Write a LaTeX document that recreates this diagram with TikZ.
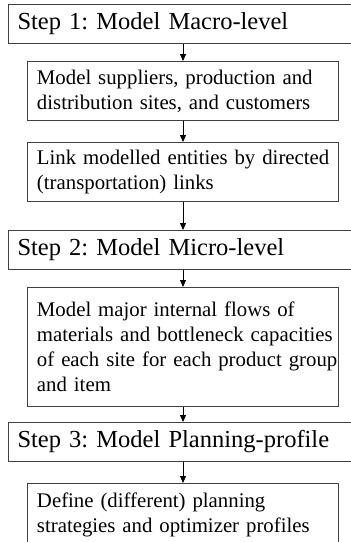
\documentclass[tikz,border=0pt]{standalone}
\usepackage{fontspec}
\setmainfont{Liberation Serif}
\usetikzlibrary{arrows.meta}
\frenchspacing
\begin{document}
\begin{tikzpicture}[x=1pt,y=-1pt,
  stepbox/.style={draw=black!75, line width=1pt, anchor=north west,
    minimum width=360pt, minimum height=39pt, inner xsep=9pt, inner ysep=0pt,
    text width=342pt, align=left, font=\fontsize{24.5}{28}\selectfont\frenchspacing},
  subbox/.style={draw=black!75, line width=1pt, anchor=north west,
    minimum width=311pt, inner xsep=4pt, inner ysep=0pt,
    text width=303pt, align=left, font=\fontsize{20.8}{25}\selectfont\frenchspacing,
    execute at begin node={\leftskip=5.5pt\relax\rightskip=-12pt plus 1fil\relax\hyphenpenalty=10000\relax}},
  flow/.style={-{Triangle[length=7pt,width=6pt]}, line width=0.8pt, black}]
\useasboundingbox (0,0) rectangle (351,542);
\clip (0,0) rectangle (351,542);
\coordinate (ax) at (183,0);
\node[stepbox] (s1) at (8,4) {Step 1: Model Macro-level};
\node[subbox, minimum height=59pt] (b1) at (27,61) {Model suppliers, production and\\distribution sites, and customers};
\node[subbox, minimum height=59pt] (b2) at (27,142) {Link modelled entities by directed\\(transportation) links};
\node[stepbox] (s2) at (8,230) {Step 2: Model Micro-level};
\node[subbox, minimum height=119pt] (b3) at (27,287) {Model major internal flows of\\materials and bottleneck capacities\\of each site for each product group\\and item};
\node[stepbox] (s3) at (8,422) {Step 3: Model Planning-profile};
\node[subbox, minimum height=62pt] (b4) at (27,483) {Define (different) planning\\strategies and optimizer profiles};
\draw[flow] (s1.south -| ax) -- (b1.north -| ax);
\draw[flow] (b1.south -| ax) -- (b2.north -| ax);
\draw[flow] (b2.south -| ax) -- (s2.north -| ax);
\draw[flow] (s2.south -| ax) -- (b3.north -| ax);
\draw[flow] (b3.south -| ax) -- (s3.north -| ax);
\draw[flow] (s3.south -| ax) -- (b4.north -| ax);
\end{tikzpicture}
\end{document}
